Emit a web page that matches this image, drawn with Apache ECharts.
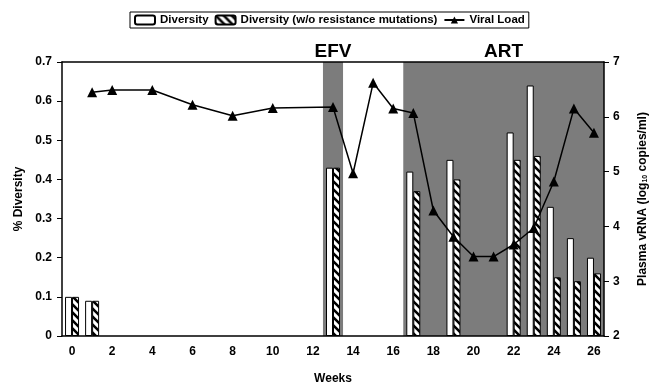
<!DOCTYPE html>
<html>
<head>
<meta charset="utf-8">
<script src="https://cdn.jsdelivr.net/npm/echarts@6/dist/echarts.min.js"></script>
<style>
  html, body { margin: 0; padding: 0; background: #fff; }
  #chart { width: 654px; height: 391px; }
</style>
</head>
<body>
<div id="chart"></div>
<script>
// weeks 0..26, one category per week
var weeks = [];
for (var w = 0; w <= 26; w++) weeks.push(String(w));

// % diversity (null where no sample)
var diversity = [0.10, 0.09, null, null, null, null, null, null, null, null, null, null, null, 0.43,
                 null, null, null, 0.42, null, 0.45, null, null, 0.52, 0.64, 0.33, 0.25, 0.20];
var diversityNoRes = [0.10, 0.09, null, null, null, null, null, null, null, null, null, null, null, 0.43,
                      null, null, null, 0.37, null, 0.40, null, null, 0.45, 0.46, 0.15, 0.14, 0.16];
// viral load, log10 copies/ml
var viralLoad = [null, 6.45, 6.49, null, 6.49, null, 6.22, null, 6.02, null, 6.16, null, null, 6.18,
                 4.97, 6.62, 6.15, 6.07, 4.29, 3.81, 3.45, 3.45, 3.67, 3.97, 4.82, 6.15, 5.71];
// treatment periods (week ranges)
var periods = [
    {name: 'EFV', from: 12.5, to: 13.5},
    {name: 'ART', from: 16.5, to: 26.5}
];

var font = 'Liberation Sans, Arial, sans-serif';

// hatch pattern for the "w/o resistance mutations" bars
var hatch = document.createElement('canvas');
hatch.width = 8; hatch.height = 8;
var ctx = hatch.getContext('2d');
ctx.fillStyle = '#fff';
ctx.fillRect(0, 0, 8, 8);
ctx.strokeStyle = '#000';
ctx.lineWidth = 2.6;
ctx.beginPath();
ctx.moveTo(-2, -2); ctx.lineTo(10, 10);
ctx.moveTo(-10, -2); ctx.lineTo(2, 10);
ctx.moveTo(6, -2); ctx.lineTo(18, 10);
ctx.stroke();

var option = {
    animation: false,
    textStyle: { fontFamily: font },
    legend: {
        left: 130,
        top: 12,
        padding: [2, 4, 2, 4],
        borderColor: '#000',
        borderWidth: 1,
        itemWidth: 20,
        itemHeight: 9,
        itemGap: 6,
        textStyle: { fontFamily: font, fontWeight: 'bold', fontSize: 11.5, color: '#000' },
        data: ['Diversity', 'Diversity (w/o resistance mutations)', 'Viral Load']
    },
    grid: { left: 62, right: 50, top: 62, bottom: 55, outerBoundsMode: 'none' },
    xAxis: [{
        type: 'category',
        data: weeks,
        boundaryGap: true,
        name: 'Weeks',
        nameLocation: 'middle',
        nameGap: 37,
        nameTextStyle: { fontFamily: font, fontWeight: 'bold', fontSize: 12, color: '#000' },
        axisLine: { onZero: false, lineStyle: { color: '#000', width: 1.5 } },
        axisTick: { interval: 0, length: 5, lineStyle: { color: '#000' } },
        axisLabel: { interval: 1, margin: 10, fontFamily: font, fontWeight: 'bold', fontSize: 12, color: '#000' },
        z: 10
    }, {
        type: 'value',
        position: 'top',
        min: -0.5,
        max: 26.5,
        axisLine: { show: true, onZero: false, lineStyle: { color: '#000', width: 1.5 } },
        axisTick: { show: false },
        axisLabel: { show: false },
        splitLine: { show: false },
        z: 10
    }],
    yAxis: [{
        type: 'value',
        min: 0,
        max: 0.7,
        interval: 0.1,
        name: '% Diversity',
        nameLocation: 'middle',
        nameRotate: 90,
        nameGap: 36,
        nameTextStyle: { fontFamily: font, fontWeight: 'bold', fontSize: 12, color: '#000' },
        axisLine: { show: true, onZero: false, lineStyle: { color: '#000', width: 1.5 } },
        axisTick: { show: true, length: 5, lineStyle: { color: '#000' } },
        axisLabel: { margin: 10, fontFamily: font, fontWeight: 'bold', fontSize: 12, color: '#000' },
        splitLine: { show: false },
        z: 10
    }, {
        type: 'value',
        min: 2,
        max: 7,
        interval: 1,
        name: '{a|Plasma vRNA (log}{s|10}{a| copies/ml)}',
        nameLocation: 'middle',
        nameRotate: 90,
        nameGap: 33,
        nameTextStyle: {
            rich: {
                a: { fontFamily: font, fontWeight: 'bold', fontSize: 12, color: '#000' },
                s: { fontFamily: font, fontWeight: 'bold', fontSize: 7, color: '#000', verticalAlign: 'bottom', padding: [4, 0, 0, 0] }
            }
        },
        axisLine: { show: true, onZero: false, lineStyle: { color: '#000', width: 1.5 } },
        axisTick: { show: true, length: 5, lineStyle: { color: '#000' } },
        axisLabel: { margin: 9, fontFamily: font, fontWeight: 'bold', fontSize: 12, color: '#000' },
        splitLine: { show: false },
        z: 10
    }],
    series: [{
        name: 'periods',
        type: 'line',
        xAxisIndex: 1,
        yAxisIndex: 0,
        data: [],
        z: 0,
        markArea: {
            silent: true,
            itemStyle: { color: '#7c7c7c' },
            label: {
                show: true,
                position: 'top',
                distance: 1,
                fontFamily: font,
                fontWeight: 'bold',
                fontSize: 19,
                color: '#000'
            },
            data: periods.map(function (p) {
                return [{ name: p.name, xAxis: p.from }, { xAxis: p.to }];
            })
        }
    }, {
        name: 'Diversity',
        type: 'bar',
        data: diversity,
        barWidth: 7,
        barGap: '0%',
        itemStyle: { color: '#fff', borderColor: '#000', borderWidth: 1 },
        z: 3
    }, {
        name: 'Diversity (w/o resistance mutations)',
        type: 'bar',
        data: diversityNoRes,
        barWidth: 7,
        itemStyle: { color: { image: hatch, repeat: 'repeat' }, borderColor: '#000', borderWidth: 1 },
        z: 3
    }, {
        name: 'Viral Load',
        type: 'line',
        yAxisIndex: 1,
        data: viralLoad,
        connectNulls: true,
        symbol: 'triangle',
        symbolSize: 10,
        itemStyle: { color: '#000' },
        lineStyle: { color: '#000', width: 1.5 },
        z: 5
    }]
};

var chart = echarts.init(document.getElementById('chart'));
chart.setOption(option);
</script>
</body>
</html>
